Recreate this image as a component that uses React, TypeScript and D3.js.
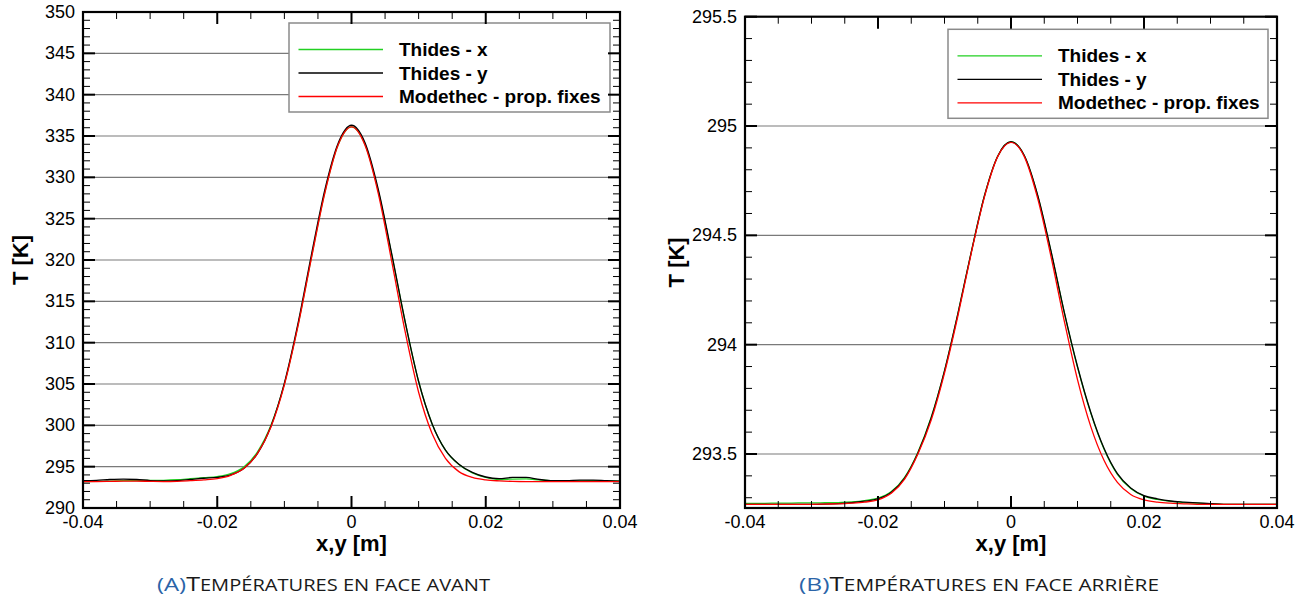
import React from 'react';
import * as d3 from 'd3';

// ---------- DATA ----------
const xPositions = [
  -0.04, -0.038, -0.036, -0.034, -0.032, -0.03, -0.028, -0.026, -0.024, -0.022,
  -0.02, -0.018, -0.016, -0.014, -0.012, -0.01, -0.008, -0.006, -0.004, -0.002,
  0, 0.002, 0.004, 0.006, 0.008, 0.01, 0.012, 0.014, 0.016, 0.018,
  0.02, 0.022, 0.024, 0.026, 0.028, 0.03, 0.032, 0.034, 0.036, 0.038, 0.04,
];

// Front face (face avant)
const frontThidesX = [
  293.2, 293.22, 293.25, 293.3, 293.32, 293.33, 293.35, 293.42, 293.55, 293.68,
  293.8, 294.15, 295.0, 296.8, 300.0, 305.0, 312.0, 320.2, 328.1, 333.9,
  336.1, 334.0, 328.3, 320.6, 312.5, 305.3, 300.2, 297.0, 295.25, 294.25,
  293.7, 293.45, 293.5, 293.52, 293.4, 293.28, 293.25, 293.28, 293.3, 293.27, 293.25,
];
const frontThidesY = [
  293.3, 293.35, 293.45, 293.5, 293.45, 293.32, 293.27, 293.3, 293.45, 293.6,
  293.7, 294.0, 294.8, 296.6, 299.9, 305.1, 312.2, 320.5, 328.4, 334.1,
  336.3, 334.2, 328.5, 320.7, 312.5, 305.3, 300.2, 297.0, 295.3, 294.3,
  293.75, 293.55, 293.7, 293.7, 293.45, 293.3, 293.3, 293.38, 293.38, 293.3, 293.25,
];
const frontModethec = [
  293.2, 293.2, 293.22, 293.25, 293.25, 293.22, 293.2, 293.22, 293.3, 293.4,
  293.55, 293.95, 294.8, 296.6, 299.8, 304.9, 311.9, 320.1, 328.0, 333.9,
  336.1, 333.9, 328.0, 319.8, 311.3, 304.0, 299.0, 296.0, 294.4, 293.7,
  293.4, 293.28, 293.22, 293.2, 293.2, 293.2, 293.2, 293.2, 293.2, 293.2, 293.2,
];

// Rear face (face arrière)
const rearThidesX = [
  293.274, 293.274, 293.275, 293.275, 293.276, 293.276, 293.277, 293.278, 293.281, 293.287,
  293.298, 293.328, 293.393, 293.508, 293.668, 293.88, 294.14, 294.42, 294.68, 294.862,
  294.928, 294.864, 294.683, 294.428, 294.148, 293.897, 293.687, 293.522, 293.407, 293.342,
  293.307, 293.292, 293.283, 293.278, 293.275, 293.272, 293.27, 293.27, 293.27, 293.27, 293.27,
];
const rearThidesY = [
  293.27, 293.27, 293.27, 293.27, 293.27, 293.27, 293.271, 293.273, 293.277, 293.284,
  293.295, 293.325, 293.39, 293.505, 293.665, 293.88, 294.14, 294.42, 294.68, 294.862,
  294.928, 294.865, 294.685, 294.43, 294.15, 293.9, 293.69, 293.525, 293.41, 293.345,
  293.31, 293.295, 293.285, 293.28, 293.276, 293.273, 293.27, 293.27, 293.27, 293.27, 293.27,
];
const rearModethec = [
  293.27, 293.27, 293.27, 293.27, 293.27, 293.27, 293.271, 293.272, 293.275, 293.28,
  293.29, 293.32, 293.385, 293.5, 293.655, 293.87, 294.13, 294.415, 294.675, 294.86,
  294.925, 294.86, 294.67, 294.405, 294.11, 293.84, 293.625, 293.47, 293.37, 293.315,
  293.29, 293.28, 293.275, 293.272, 293.27, 293.27, 293.27, 293.27, 293.27, 293.27, 293.27,
];

const xTickValues = [-0.04, -0.02, 0, 0.02, 0.04];
const xTickLabels = ['-0.04', '-0.02', '0', '0.02', '0.04'];
const frontYTickValues = [290, 295, 300, 305, 310, 315, 320, 325, 330, 335, 340, 345, 350];
const frontYTickLabels = ['290', '295', '300', '305', '310', '315', '320', '325', '330', '335', '340', '345', '350'];
const rearYTickValues = [293.5, 294, 294.5, 295, 295.5];
const rearYTickLabels = ['293.5', '294', '294.5', '295', '295.5'];

const seriesNames = ['Thides - x', 'Thides - y', 'Modethec - prop. fixes'];
const seriesColors = ['#22d022', '#000000', '#ff0000'];

const xAxisTitle = 'x,y [m]';
const yAxisTitle = 'T [K]';

// ---------- STYLE ----------
const FONT = '"Liberation Sans", Arial, Helvetica, sans-serif';
const CAPTION_FONT = '"Open Sans", "DejaVu Sans", sans-serif';

type PanelProps = {
  left: number; right: number; top: number; bottom: number;
  yDomain: [number, number];
  yTicks: number[]; yLabels: string[]; yMinorStep: number;
  series: number[][];
  legend: { x: number; y: number; w: number; h: number };
  yTitleX: number;
};

function Panel(p: PanelProps) {
  const x = d3.scaleLinear().domain([-0.04, 0.04]).range([p.left, p.right]);
  const y = d3.scaleLinear().domain(p.yDomain).range([p.bottom, p.top]);
  const xMinor = d3.range(-0.04, 0.04001, 0.005).filter(v => !xTickValues.some(t => Math.abs(t - v) < 1e-9));
  const yMinorAll = d3.range(Math.ceil(p.yDomain[0] / p.yMinorStep - 1e-6) * p.yMinorStep, p.yDomain[1] + 1e-9, p.yMinorStep);
  const yMinor = yMinorAll.filter(v => !p.yTicks.some(t => Math.abs(t - v) < 1e-6) && v > p.yDomain[0] + 1e-6 && v < p.yDomain[1] - 1e-6);
  const line = d3.line<number>()
    .x((_, i) => x(xPositions[i]))
    .y(d => y(d))
    .curve(d3.curveMonotoneX);
  const clipId = `clip-${p.left}`;
  const majLen = 12, minLen = 7;
  const L = p.legend;
  return (
    <g>
      <defs>
        <clipPath id={clipId}>
          <rect x={p.left} y={p.top} width={p.right - p.left} height={p.bottom - p.top} />
        </clipPath>
      </defs>
      {p.yTicks.filter(t => t > p.yDomain[0] && t < p.yDomain[1]).map(t => (
        <line key={'g' + t} x1={p.left} x2={p.right} y1={y(t)} y2={y(t)} stroke="#7a7a7a" strokeWidth={1.2} />
      ))}
      <g clipPath={`url(#${clipId})`}>
        {p.series.map((s, i) => (
          <path key={i} d={line(s) || ''} fill="none" stroke={seriesColors[i]} strokeWidth={1.3} />
        ))}
      </g>
      <rect x={L.x} y={L.y} width={L.w} height={L.h} fill="#fff" stroke="#8a8a8a" strokeWidth={1.5} />
      {seriesNames.map((n, i) => {
        const ly = L.y + 26.5 + i * 23.5;
        return (
          <g key={n}>
            <line x1={L.x + 9.5} x2={L.x + 94} y1={ly} y2={ly} stroke={seriesColors[i]} strokeWidth={1.3} />
            <text x={L.x + 110} y={ly + 6.5} fontFamily={FONT} fontWeight="bold" fontSize={19} fill="#000">{n}</text>
          </g>
        );
      })}
      {xMinor.map(v => (
        <g key={'xm' + v}>
          <line x1={x(v)} x2={x(v)} y1={p.bottom} y2={p.bottom - minLen} stroke="#000" strokeWidth={1} />
          <line x1={x(v)} x2={x(v)} y1={p.top} y2={p.top + minLen} stroke="#000" strokeWidth={1} />
        </g>
      ))}
      {yMinor.map(v => (
        <g key={'ym' + v}>
          <line x1={p.left} x2={p.left + minLen} y1={y(v)} y2={y(v)} stroke="#000" strokeWidth={1} />
          <line x1={p.right} x2={p.right - minLen} y1={y(v)} y2={y(v)} stroke="#000" strokeWidth={1} />
        </g>
      ))}
      {xTickValues.map(v => (
        <g key={'xM' + v}>
          <line x1={x(v)} x2={x(v)} y1={p.bottom} y2={p.bottom - majLen} stroke="#000" strokeWidth={2} />
          <line x1={x(v)} x2={x(v)} y1={p.top} y2={p.top + majLen} stroke="#000" strokeWidth={2} />
        </g>
      ))}
      {p.yTicks.map(v => (
        <g key={'yM' + v}>
          <line x1={p.left} x2={p.left + majLen} y1={y(v)} y2={y(v)} stroke="#000" strokeWidth={2} />
          <line x1={p.right} x2={p.right - majLen} y1={y(v)} y2={y(v)} stroke="#000" strokeWidth={2} />
        </g>
      ))}
      <rect x={p.left} y={p.top} width={p.right - p.left} height={p.bottom - p.top} fill="none" stroke="#000" strokeWidth={2.2} />
      {xTickValues.map((v, i) => (
        <text key={'xl' + v} x={x(v)} y={p.bottom + 19.5} textAnchor="middle" fontFamily={FONT} fontSize={18} fill="#000">{xTickLabels[i]}</text>
      ))}
      {p.yTicks.map((v, i) => (
        <text key={'yl' + v} x={p.left - 8} y={y(v) + 6} textAnchor="end" fontFamily={FONT} fontSize={18} fill="#000">{p.yLabels[i]}</text>
      ))}
      <text x={(p.left + p.right) / 2} y={551} textAnchor="middle" fontFamily={FONT} fontWeight="bold" fontSize={22} fill="#000">{xAxisTitle}</text>
      <text transform={`translate(${p.yTitleX},${(p.top + p.bottom) / 2}) rotate(-90)`} textAnchor="middle" fontFamily={FONT} fontWeight="bold" fontSize={22} fill="#000">{yAxisTitle}</text>
    </g>
  );
}

function Caption({ x, width, tag, rest }: { x: number; width: number; tag: string; rest: string }) {
  return (
    <text x={x} y={591} fontFamily={CAPTION_FONT} textLength={width} lengthAdjust="spacingAndGlyphs" fill="#1a1a1a">
      <tspan fill="#2a64a8" fontSize={19}>{tag}</tspan>
      <tspan fontSize={20}>T</tspan>
      <tspan fontSize={16}>{rest}</tspan>
    </text>
  );
}

export default function App() {
  return (
    <svg width={1303} height={597} style={{ position: 'absolute', left: 0, top: 0, background: '#fff' }}>
      <rect x={0} y={0} width={1303} height={597} fill="#fff" />
      <Panel
        left={83} right={620} top={12} bottom={508}
        yDomain={[290, 350]} yTicks={frontYTickValues} yLabels={frontYTickLabels} yMinorStep={1}
        series={[frontThidesX, frontThidesY, frontModethec]}
        legend={{ x: 289, y: 23, w: 321, h: 89 }}
        yTitleX={28}
      />
      <Panel
        left={745} right={1277} top={16.7} bottom={508}
        yDomain={[293.253, 295.5]} yTicks={rearYTickValues} yLabels={rearYTickLabels} yMinorStep={0.1}
        series={[rearThidesX, rearThidesY, rearModethec]}
        legend={{ x: 948, y: 29.3, w: 320, h: 89 }}
        yTitleX={684}
      />
      <Caption x={157} width={333} tag="(A)" rest="EMPÉRATURES EN FACE AVANT" />
      <Caption x={799} width={360} tag="(B)" rest="EMPÉRATURES EN FACE ARRIÈRE" />
    </svg>
  );
}
